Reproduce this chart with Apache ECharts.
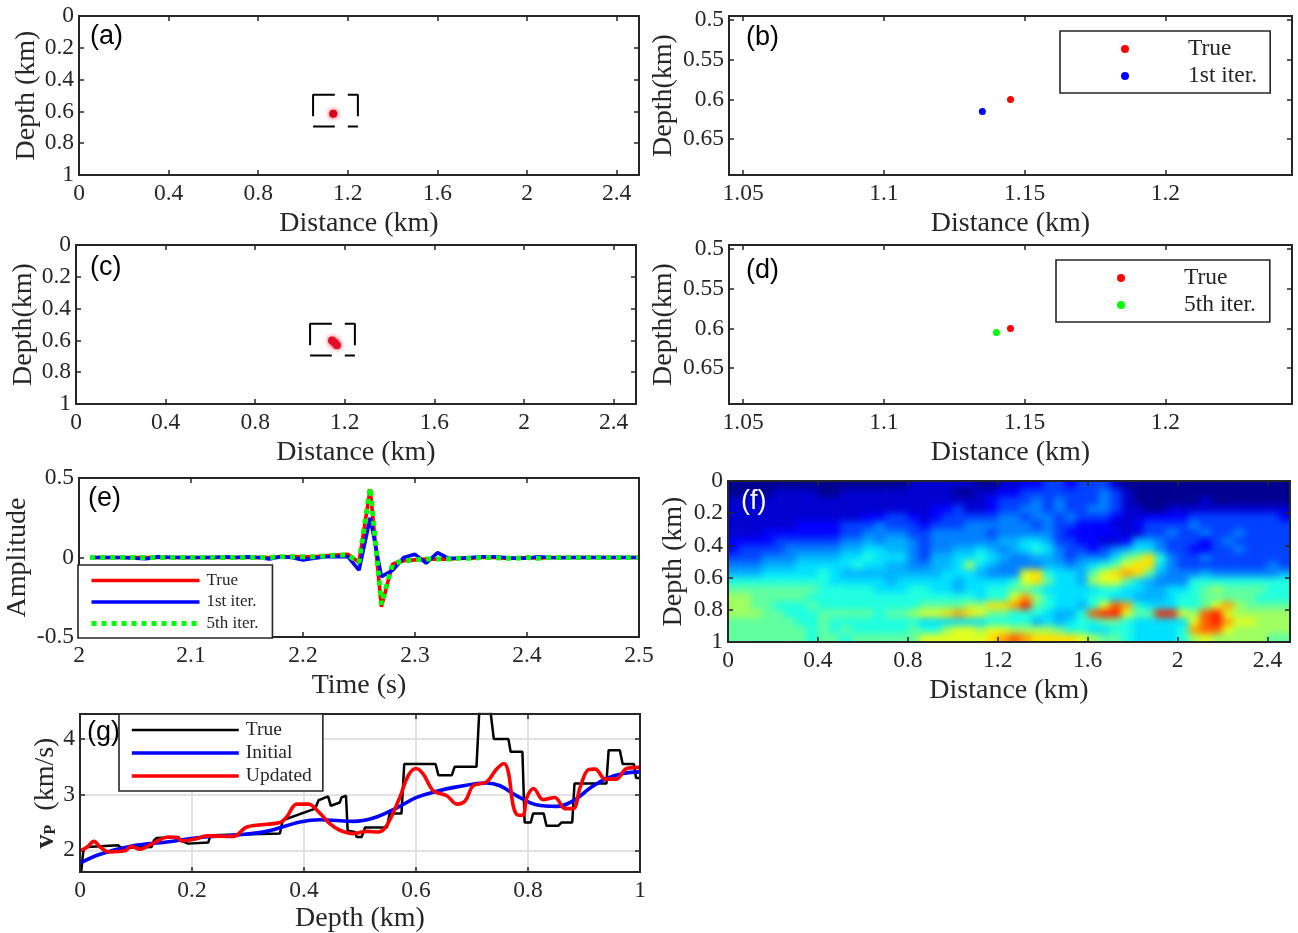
<!DOCTYPE html>
<html><head><meta charset="utf-8">
<script src="https://cdn.jsdelivr.net/npm/echarts@6/dist/echarts.min.js"></script>
<style>
html,body{margin:0;padding:0;background:#fff;width:1298px;height:933px;overflow:hidden}
#main{position:absolute;left:0;top:0;width:1298px;height:933px;z-index:2}
#clip{position:absolute;left:728px;top:481px;width:562px;height:161px;overflow:hidden;z-index:1}
#heat{position:absolute;left:-11.24px;top:-8.05px;width:584.48px;height:177.1px;filter:blur(3.5px)}
</style></head><body>
<div id="clip"><div id="heat"></div></div>
<div id="main"></div>
<script>
// ---------- tick labels ----------
const distTicks = [0,0.4,0.8,1.2,1.6,2,2.4];
const depthTicks = [0,0.2,0.4,0.6,0.8,1];
const zoomXTicks = [1.05,1.1,1.15,1.2];
const zoomYTicks = [0.5,0.55,0.6,0.65];
const timeTicks = [2,2.1,2.2,2.3,2.4,2.5];
const ampTicks = [-0.5,0,0.5];
const vpTicks = [2,3,4];
const vpDepthTicks = [0,0.2,0.4,0.6,0.8,1];

// ---------- source locations ----------
const trueLoc = [[1.145,0.6]];
const iter1Loc = [[1.135,0.615]];
const iter5Loc = [[1.14,0.605]];
const blobA = [[1.135,0.615]];
const blobC = [[1.143,0.6],[1.155,0.615],[1.165,0.63]];
const windowTop = [[1.045,0.631],[1.045,0.495],[1.142,0.495]];
const windowTopR = [[1.2,0.495],[1.245,0.495],[1.245,0.631]];
const windowBot = [[1.045,0.695],[1.142,0.695]];
const windowBotR = [[1.2,0.695],[1.245,0.695]];

// ---------- panel (e) wavelets ----------
const timeS = [2.01,2.02,2.03,2.04,2.05,2.06,2.07,2.08,2.09,2.10,2.11,2.12,2.13,2.14,2.15,2.16,2.17,2.18,2.19,2.20,2.21,2.22,2.23,2.24,2.25,2.26,2.27,2.28,2.29,2.30,2.31,2.32,2.33,2.34,2.35,2.36,2.37,2.38,2.39,2.40,2.41,2.42,2.43,2.44,2.45,2.46,2.47,2.48,2.49,2.50];
const ampTrue = [0,0,0,0,0,0,0,0,0,0,0,0,0,0,0,0,0,0.005,0.005,0.005,0.005,0.01,0.015,0.02,-0.03,0.43,-0.31,-0.04,-0.02,-0.015,-0.01,-0.01,-0.01,-0.005,-0.005,0,0,-0.005,-0.005,0,-0.005,0,0,0,0,0,0,0,0,0];
const ampIter1 = [0,0,0,0,-0.005,-0.008,0.004,0.002,0,0,0,0,0.004,0,0.004,0,-0.01,0.005,0,-0.015,-0.005,0.005,0.005,0.005,-0.08,0.25,-0.12,-0.08,0,0.02,-0.035,0.03,-0.005,-0.005,0,0.005,0.005,0,-0.005,-0.005,0.005,0,-0.002,0,0,0,0,0,0,0];
const ampIter5 = [0,0,0,0,0,0,0,0,0,0,0,0,0,0,0,0,0,0.005,0.005,0.005,0.005,0.01,0.015,0.015,-0.03,0.44,-0.295,-0.04,-0.02,-0.015,-0.01,-0.01,-0.01,-0.005,-0.005,0,0,-0.005,-0.005,0,-0.005,0,0,0,0,0,0,0,0,0];

// ---------- panel (g) velocity profiles: [depth, vp] ----------
const vpTrue = [[0.002,1.6],[0.006,2.0],[0.013,2.06],[0.068,2.09],[0.074,2.04],[0.128,2.06],[0.132,2.18],[0.137,2.22],[0.176,2.24],[0.179,2.18],[0.193,2.12],[0.229,2.14],[0.233,2.27],[0.357,2.30],[0.362,2.54],[0.42,2.75],[0.426,2.9],[0.443,2.97],[0.448,2.8],[0.464,2.86],[0.467,2.95],[0.475,2.98],[0.478,2.35],[0.491,2.33],[0.494,2.24],[0.503,2.24],[0.509,2.41],[0.548,2.41],[0.553,2.66],[0.574,2.66],[0.579,3.55],[0.635,3.55],[0.64,3.35],[0.664,3.35],[0.669,3.5],[0.708,3.5],[0.713,4.5],[0.733,4.5],[0.739,4.0],[0.765,4.0],[0.769,3.77],[0.79,3.77],[0.794,2.5],[0.805,2.5],[0.809,2.66],[0.828,2.66],[0.833,2.44],[0.854,2.44],[0.86,2.5],[0.879,2.5],[0.883,3.2],[0.94,3.2],[0.944,3.8],[0.964,3.8],[0.969,3.55],[0.989,3.55],[0.993,3.3],[1,3.3]];
const vpInitial = [[0,1.77],[0.036,1.93],[0.095,2.08],[0.155,2.15],[0.214,2.23],[0.274,2.27],[0.333,2.34],[0.393,2.51],[0.429,2.55],[0.464,2.53],[0.488,2.52],[0.524,2.58],[0.565,2.76],[0.601,2.95],[0.637,3.06],[0.673,3.14],[0.726,3.21],[0.75,3.16],[0.78,2.98],[0.815,2.82],[0.851,2.79],[0.881,2.89],[0.911,3.12],[0.94,3.29],[0.97,3.38],[1,3.41]];
const vpUpdated = [[0,1.99],[0.013,2.06],[0.025,2.16],[0.036,2.06],[0.051,1.97],[0.08,1.99],[0.092,2.07],[0.107,2.02],[0.131,2.13],[0.158,2.24],[0.173,2.23],[0.182,2.17],[0.208,2.21],[0.226,2.26],[0.274,2.25],[0.298,2.42],[0.357,2.5],[0.369,2.6],[0.387,2.83],[0.408,2.83],[0.429,2.66],[0.446,2.48],[0.464,2.36],[0.488,2.3],[0.512,2.34],[0.533,2.33],[0.548,2.45],[0.571,2.95],[0.586,3.34],[0.6,3.47],[0.613,3.37],[0.631,3.07],[0.655,2.98],[0.673,2.83],[0.688,2.89],[0.702,3.16],[0.726,3.23],[0.744,3.46],[0.757,3.56],[0.765,3.4],[0.774,2.78],[0.783,2.63],[0.791,2.63],[0.798,2.95],[0.81,3.11],[0.827,2.91],[0.848,2.95],[0.866,2.75],[0.881,2.75],[0.893,3.13],[0.908,3.45],[0.92,3.46],[0.938,3.28],[0.958,3.28],[0.976,3.47],[1,3.49]];

// ---------- panel (f) image levels (one row per 0.05 km of depth, one column per 0.05 km of distance) ----------
const f00=[0,0,0,0,0,0,0,0,0,0,0,0,0,0,0,0,1,1,1,1,1,1,0,0,1,1,2,2,3,3,2,3,3,3,1,0,0,0,0,0,0,0,0,0,0,0,0,0,0,0];
const f01=[0,0,0,0,1,1,1,1,0,0,1,1,1,1,1,1,1,1,1,1,0,0,1,1,2,2,3,3,3,3,3,3,3,4,3,1,0,0,0,0,0,0,0,0,0,0,0,0,0,0];
const f02=[1,1,1,1,1,1,1,1,1,1,1,1,1,1,1,1,1,1,1,1,1,1,1,2,3,3,3,4,3,4,3,3,3,4,3,1,0,0,0,0,0,0,1,0,0,0,0,0,0,0];
const f03=[1,1,1,1,1,1,1,1,1,1,1,1,1,1,1,1,1,1,2,2,3,1,1,2,3,3,4,4,3,4,3,3,4,4,3,1,1,0,0,1,1,1,1,1,1,1,1,1,1,1];
const f04=[1,1,1,1,1,1,1,1,1,1,1,1,2,2,3,3,2,1,2,3,3,3,3,3,4,4,3,4,4,3,4,3,3,3,2,1,1,2,2,2,2,3,3,3,3,3,3,3,3,2];
const f05=[1,1,1,1,1,1,2,2,2,2,3,3,3,4,3,3,3,2,3,3,3,4,4,4,4,4,4,3,4,3,3,2,2,2,1,1,2,3,3,3,3,4,3,3,3,3,3,3,3,3];
const f06=[1,1,1,2,2,2,2,2,2,2,3,3,4,4,4,4,3,3,4,4,4,4,4,3,4,4,4,4,4,3,2,2,2,2,2,1,1,3,3,4,3,3,4,3,3,4,3,3,3,3];
const f07=[2,2,2,2,3,3,3,3,3,3,4,4,5,4,5,5,4,3,4,4,4,4,4,4,5,5,6,6,5,3,3,2,2,1,1,2,5,5,4,3,3,3,2,3,4,3,3,3,3,3];
const f08=[2,3,3,3,3,4,4,4,4,4,5,5,6,6,5,5,4,3,4,4,5,5,6,5,4,5,6,7,6,4,3,3,2,3,4,5,6,6,4,3,3,2,2,3,3,4,3,3,3,3];
const f09=[3,3,3,4,4,4,5,5,5,5,6,6,7,6,6,6,4,3,5,5,6,6,7,6,5,4,4,5,5,4,3,4,4,4,6,8,9,11,7,4,3,3,4,3,3,3,3,3,3,3];
const f10=[4,4,4,5,5,5,6,6,6,6,6,7,6,6,5,5,4,4,5,5,6,9,6,5,4,4,4,4,5,5,4,5,6,7,8,10,11,11,6,4,3,3,3,3,3,3,3,3,4,3];
const f11=[5,5,5,6,6,6,6,6,7,6,5,5,5,5,5,5,5,5,5,6,6,6,5,4,4,4,10,11,7,6,6,5,8,10,11,12,11,8,5,4,4,4,5,4,4,4,4,4,4,5];
const f12=[7,7,7,7,7,7,7,7,7,6,6,6,6,6,5,6,6,6,6,6,5,6,6,6,6,7,10,11,8,6,6,5,9,10,10,8,6,5,4,4,4,7,7,7,7,7,7,7,7,7];
const f13=[8,8,8,8,8,8,8,8,7,7,7,7,7,6,6,6,7,7,6,6,5,6,6,7,7,8,8,7,6,6,6,6,6,7,7,6,6,5,5,6,6,7,8,9,8,8,8,8,7,7];
const f14=[9,9,8,8,8,8,8,7,7,7,7,7,7,7,7,7,7,7,7,7,7,7,6,7,7,10,12,9,7,6,6,6,7,7,6,6,5,5,5,6,7,7,8,8,8,8,8,7,7,7];
const f15=[9,9,8,8,7,7,7,8,7,7,7,7,7,7,7,7,7,8,8,8,8,9,9,11,11,12,14,8,7,6,6,5,7,10,13,12,7,6,6,6,7,7,8,10,12,9,8,8,8,8];
const f16=[9,9,9,8,8,7,7,7,8,8,8,8,8,7,8,8,9,10,10,11,12,11,10,8,8,7,7,7,6,5,5,7,13,14,14,10,8,8,14,14,10,9,13,14,10,9,9,9,9,9];
const f17=[8,8,8,8,8,8,7,7,8,7,7,7,7,7,7,7,7,6,6,6,6,6,6,7,7,7,7,5,6,5,6,7,7,8,8,7,6,6,6,6,6,10,13,14,12,10,10,9,9,9];
const f18=[8,8,8,8,8,8,8,7,8,7,8,7,7,7,7,7,8,7,7,9,10,10,9,10,10,9,9,9,9,8,7,7,6,6,7,7,6,6,6,6,7,12,13,13,10,9,9,9,9,9];
const f19=[8,8,8,8,8,8,8,7,8,8,7,8,8,8,8,8,8,10,10,10,10,10,10,11,12,13,12,11,11,11,11,10,9,8,8,7,6,6,6,6,7,9,10,9,9,9,9,9,8,8];
const imageRows = [f00,f01,f02,f03,f04,f05,f06,f07,f08,f09,f10,f11,f12,f13,f14,f15,f16,f17,f18,f19];
const jet = ['#000090','#0000d0','#0000ff','#0040ff','#0080ff','#00b0ff','#00e0ff','#20ffe0','#60ffa0','#a0ff60','#e0ff20','#ffe000','#ffa000','#ff6000','#ff2000'];

// ---------- image layer ----------
const nR = imageRows.length, nC = imageRows[0].length;
const catX = Array.from({length:nC+2},(_,i)=>String(i));
const catY = Array.from({length:nR+2},(_,i)=>String(i));
const clampI = (v,n)=>Math.min(n-1,Math.max(0,v));
const cells = [];
for (let j=0;j<nR+2;j++) for (let i=0;i<nC+2;i++) cells.push([i,j,imageRows[clampI(j-1,nR)][clampI(i-1,nC)]]);
const heat = echarts.init(document.getElementById('heat'));
heat.setOption({
  animation:false,
  grid:{left:0,right:0,top:0,bottom:0,outerBoundsMode:'none'},
  xAxis:{type:'category',data:catX,show:false},
  yAxis:{type:'category',data:catY,show:false,inverse:true},
  visualMap:{show:false,min:0,max:14,inRange:{color:jet},calculable:false},
  series:[{type:'heatmap',data:cells,progressive:0,itemStyle:{borderWidth:0}}]
});

// ---------- main layer ----------
const FONT='Liberation Serif', INK='#262626';
const TICK=23.5, NAME=28;
const rects = {
  a:{left:79,right:639,top:16,bottom:175},
  b:{left:729,right:1292,top:16,bottom:175},
  c:{left:76,right:636,top:245,bottom:404},
  d:{left:729,right:1292,top:245,bottom:404},
  e:{left:79,right:639,top:478,bottom:637},
  f:{left:728,right:1290,top:481,bottom:642},
  g:{left:80,right:640,top:714,bottom:872}
};
const order=['a','b','c','d','e','f','g'];
const grids=order.map(k=>{const r=rects[k];return {left:r.left,top:r.top,width:r.right-r.left,height:r.bottom-r.top,show:true,borderColor:INK,borderWidth:2,backgroundColor:'transparent',z:4,outerBoundsMode:'none'};});
const xAxes=[],yAxes=[];
function addAxes(gi,xc,yc){
  const tick=(vals)=>({show:true,inside:true,length:5,lineStyle:{color:INK,width:1.5},customValues:vals});
  const lab=(vals,m)=>({show:true,customValues:vals,formatter:v=>String(+(+v).toFixed(3)),fontFamily:FONT,fontSize:TICK,color:INK,margin:m,hideOverlap:false,showMinLabel:true,showMaxLabel:true});
  const line={show:false,onZero:false};
  const sp=xc.grid?{show:true,customValues:xc.ticks,lineStyle:{color:'#e3e3e3',width:2}}:{show:false};
  xAxes.push({type:'value',gridIndex:gi,position:'bottom',min:xc.min,max:xc.max,axisLine:line,axisTick:tick(xc.ticks),axisLabel:lab(xc.ticks,xc.margin||7),splitLine:sp,name:xc.name,nameLocation:'middle',nameGap:xc.gap,nameTextStyle:{fontFamily:FONT,fontSize:NAME,color:INK}});
  xAxes.push({type:'value',gridIndex:gi,position:'top',min:xc.min,max:xc.max,axisLine:line,axisTick:tick(xc.ticks),axisLabel:{show:false},splitLine:{show:false}});
  const sy=yc.grid?{show:true,customValues:yc.ticks,lineStyle:{color:'#e3e3e3',width:2}}:{show:false};
  yAxes.push({type:'value',gridIndex:gi,position:'left',min:yc.min,max:yc.max,inverse:!!yc.inverse,axisLine:line,axisTick:tick(yc.ticks),axisLabel:lab(yc.ticks,yc.margin||5),splitLine:sy,name:yc.name,nameLocation:'middle',nameGap:yc.gap,nameTextStyle:Object.assign({fontFamily:FONT,fontSize:NAME,color:INK},yc.style||{})});
  yAxes.push({type:'value',gridIndex:gi,position:'right',min:yc.min,max:yc.max,inverse:!!yc.inverse,axisLine:line,axisTick:tick(yc.ticks),axisLabel:{show:false},splitLine:{show:false}});
}
const distX={min:0,max:2.5,ticks:distTicks,name:'Distance (km)',gap:35};
const zoomX={min:1.045,max:1.245,ticks:zoomXTicks,name:'Distance (km)',gap:35};
addAxes(0,distX,{min:0,max:1,inverse:true,ticks:depthTicks,name:'Depth (km)',gap:36});
addAxes(1,zoomX,{min:0.495,max:0.695,inverse:true,ticks:zoomYTicks,name:'Depth(km)',gap:51});
addAxes(2,distX,{min:0,max:1,inverse:true,ticks:depthTicks,name:'Depth(km)',gap:37});
addAxes(3,zoomX,{min:0.495,max:0.695,inverse:true,ticks:zoomYTicks,name:'Depth(km)',gap:51});
addAxes(4,{min:2,max:2.5,ticks:timeTicks,name:'Time (s)',gap:35},{min:-0.5,max:0.5,ticks:ampTicks,name:'Amplitude',gap:47});
addAxes(5,distX,{min:0,max:1,inverse:true,ticks:depthTicks,name:'Depth (km)',gap:40});
addAxes(6,{min:0,max:1,ticks:vpDepthTicks,name:'Depth (km)',gap:33,grid:true},{min:1.61,max:4.45,ticks:vpTicks,grid:true,gap:20,
  name:'{v|v}{p|P}  {t|(km/s)}',style:{rich:{v:{fontFamily:FONT,fontSize:NAME,fontWeight:'bold',color:INK},p:{fontFamily:FONT,fontSize:16,fontWeight:'bold',color:INK,verticalAlign:'bottom'},t:{fontFamily:FONT,fontSize:NAME,color:INK}}}});

function ax(gi){return {xAxisIndex:gi*2,yAxisIndex:gi*2};}
const S=[];
function wnd(gi){
  for (const d of [windowTop,windowTopR,windowBot,windowBotR])
    S.push(Object.assign({type:'line',name:'window',data:d,symbol:'none',silent:true,lineStyle:{color:'#000',width:2}},ax(gi)));
}
wnd(0); wnd(2);
S.push(Object.assign({type:'scatter',name:'image a',data:blobA,symbolSize:8,silent:true,itemStyle:{opacity:1,color:'#d8001a',shadowBlur:5,shadowColor:'rgba(255,0,30,0.9)'}},ax(0)));
S.push(Object.assign({type:'scatter',name:'image c',data:blobC,symbolSize:8,silent:true,itemStyle:{opacity:1,color:'#e0102a',shadowBlur:5,shadowColor:'rgba(255,0,30,0.7)'}},ax(2)));
const dot=(name,data,color,gi)=>S.push(Object.assign({type:'scatter',name,data,symbolSize:7,itemStyle:{color,opacity:1}},ax(gi)));
dot('True (b)',trueLoc,'#ff0000',1); dot('1st iter. (b)',iter1Loc,'#0000ff',1);
dot('True (d)',trueLoc,'#ff0000',3); dot('5th iter. (d)',iter5Loc,'#00ff00',3);
const zip=(t,a)=>t.map((x,i)=>[x,a[i]]);
const ln=(name,data,color,width,gi,extra)=>S.push(Object.assign({type:'line',name,data,symbol:'circle',showSymbol:false,lineStyle:Object.assign({color,width},extra&&extra.line||{}),itemStyle:{color},smooth:extra&&extra.smooth||false,z:3},ax(gi)));
ln('True (e)',zip(timeS,ampTrue),'#ff0000',3.6,4);
ln('1st iter. (e)',zip(timeS,ampIter1),'#0000ff',3.6,4);
ln('5th iter. (e)',zip(timeS,ampIter5),'#00ff00',5,4,{line:{type:[5,5]}});
ln('True (g)',vpTrue,'#000000',2.5,6);
ln('Initial (g)',vpInitial,'#0000ff',3.6,6,{smooth:0.4});
ln('Updated (g)',vpUpdated,'#ff0000',3.6,6,{smooth:0.35});

const strip=n=>n.replace(/ \([a-z]\)$/,'');
const legend=(names,o)=>Object.assign({data:names,orient:'vertical',selectedMode:false,formatter:strip,backgroundColor:'#fff',borderColor:INK,borderWidth:1.6,align:'left',z:10,lineStyle:{width:'inherit',type:'inherit'}},o);
const leg=[
 legend(['True (b)','1st iter. (b)'],{left:1060,top:31,itemWidth:8,itemHeight:8,icon:'circle',itemGap:3,padding:[6,13,5,61],textStyle:{fontFamily:FONT,fontSize:23.5,color:INK,padding:[0,0,0,54]}}),
 legend(['True (d)','5th iter. (d)'],{left:1056,top:260,itemWidth:8,itemHeight:8,icon:'circle',itemGap:3,padding:[6,14,5,61],textStyle:{fontFamily:FONT,fontSize:23.5,color:INK,padding:[0,0,0,54]}}),
 legend(['True (e)','1st iter. (e)','5th iter. (e)'],{left:78,top:565,itemWidth:108,itemHeight:14,itemGap:4.5,padding:[7,14,6,11],itemStyle:{opacity:0},textStyle:{fontFamily:FONT,fontSize:17,color:INK,padding:[0,0,0,2]}}),
 legend(['True (g)','Initial (g)','Updated (g)'],{left:119,top:714,itemWidth:107,itemHeight:14,itemGap:3,padding:[6,11,5,11],itemStyle:{opacity:0},textStyle:{fontFamily:FONT,fontSize:19.5,color:INK,padding:[0,0,0,2]}})
];
const panel=(t,x,y,c)=>({text:t,left:x,top:y,padding:0,textStyle:{fontFamily:'Liberation Sans',fontWeight:'normal',fontSize:27,color:c||'#000'},z:11});
const titles=[panel('(a)',90,23),panel('(b)',746,24),panel('(c)',90,254),panel('(d)',746,257),panel('(e)',88,485),panel('(f)',741,488,'#fff'),panel('(g)',87,719)];

const chart=echarts.init(document.getElementById('main'));
chart.setOption({animation:false,backgroundColor:'transparent',title:titles,grid:grids,xAxis:xAxes,yAxis:yAxes,legend:leg,series:S});
</script>
</body></html>
